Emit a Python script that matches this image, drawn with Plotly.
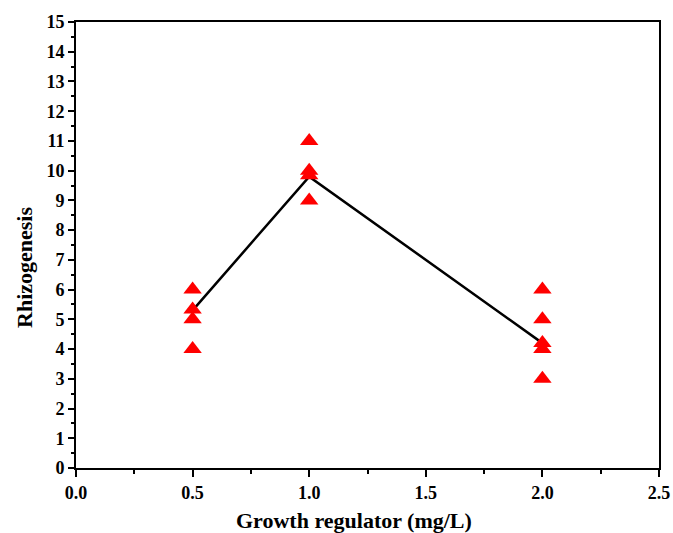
import plotly.graph_objects as go

# Data
x_points = [0.5, 0.5, 0.5, 0.5, 1.0, 1.0, 1.0, 1.0, 2.0, 2.0, 2.0, 2.0, 2.0]
y_points = [6.0, 5.33, 5.0, 4.0, 11.0, 10.0, 9.85, 9.0, 6.0, 5.0, 4.2, 4.0, 3.0]
x_mean = [0.5, 1.0, 2.0]
y_mean = [5.3, 9.8, 4.2]

x_ticks = [0, 0.5, 1.0, 1.5, 2.0, 2.5]
x_ticklabels = ["0.0", "0.5", "1.0", "1.5", "2.0", "2.5"]
y_ticks = list(range(0, 16))
y_ticklabels = [str(v) for v in y_ticks]
x_title = "Growth regulator (mg/L)"
y_title = "Rhizogenesis"

font_family = "Liberation Serif"

fig = go.Figure()
fig.add_trace(go.Scatter(
    x=x_mean, y=y_mean, mode="lines",
    line=dict(color="black", width=2.5),
    showlegend=False, hoverinfo="skip",
))
fig.add_trace(go.Scatter(
    x=x_points, y=y_points, mode="markers",
    marker=dict(symbol="triangle-up", size=16, color="#ff0000", line=dict(width=0)),
    showlegend=False,
))

fig.update_layout(
    width=673, height=533,
    margin=dict(l=76, r=14, t=22, b=65),
    paper_bgcolor="white", plot_bgcolor="white",
    font=dict(family=font_family, color="black"),
    xaxis=dict(
        range=[0, 2.5], tickvals=x_ticks,
        ticktext=["<b>%s</b>" % t for t in x_ticklabels],
        ticks="outside", ticklen=7, tickwidth=2, tickcolor="black",
        minor=dict(dtick=0.25, tick0=0, ticks="outside", ticklen=4, tickwidth=2, tickcolor="black"),
        showline=True, linecolor="black", linewidth=2, mirror=True,
        showgrid=False, zeroline=False, automargin=False,
        tickfont=dict(size=18, family=font_family),
    ),
    yaxis=dict(
        range=[0, 15], tickvals=y_ticks,
        ticktext=["<b>%s</b>" % t for t in y_ticklabels],
        ticks="outside", ticklen=6, tickwidth=2, tickcolor="black",
        minor=dict(dtick=0.5, tick0=0, ticks="outside", ticklen=3, tickwidth=2, tickcolor="black"),
        showline=True, linecolor="black", linewidth=2, mirror=True,
        showgrid=False, zeroline=False, automargin=False,
        tickfont=dict(size=18, family=font_family),
    ),
    annotations=[
        dict(text="<b>%s</b>" % x_title, xref="paper", yref="paper",
             x=0.477, y=-0.117, xanchor="center", yanchor="middle",
             showarrow=False, font=dict(size=22, family=font_family)),
        dict(text="<b>%s</b>" % y_title, xref="paper", yref="paper",
             x=-0.088, y=0.45, xanchor="center", yanchor="middle", textangle=-90,
             showarrow=False, font=dict(size=22, family=font_family)),
    ],
)

fig.write_html(
    "out.html",
    config={"displayModeBar": False},
    post_script="document.body.style.margin='0';document.body.style.overflow='hidden';",
)
